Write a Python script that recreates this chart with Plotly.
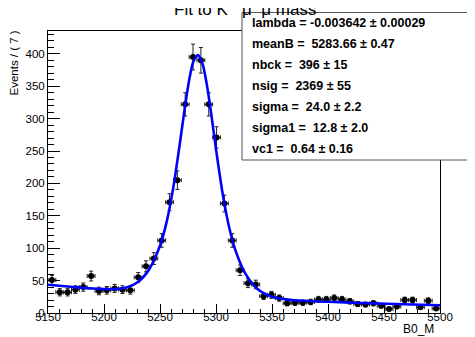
import numpy as np
import plotly.graph_objects as go

# ---------------- data ----------------
mass_bins = [5153.5, 5160.5, 5167.5, 5174.5, 5181.5, 5188.5, 5195.5, 5202.5, 5209.5, 5216.5,
             5223.5, 5230.5, 5237.5, 5244.5, 5251.5, 5258.5, 5265.5, 5272.5, 5279.5, 5286.5,
             5293.5, 5300.5, 5307.5, 5314.5, 5321.5, 5328.5, 5335.5, 5342.5, 5349.5, 5356.5,
             5363.5, 5370.5, 5377.5, 5384.5, 5391.5, 5398.5, 5405.5, 5412.5, 5419.5, 5426.5,
             5433.5, 5440.5, 5447.5, 5454.5, 5461.5, 5468.5, 5475.5, 5482.5, 5489.5, 5496.5]
events = [51, 32, 32, 36, 40, 57, 34, 35, 38, 36,
          35, 55, 72, 84, 112, 171, 205, 322, 395, 390,
          322, 271, 169, 112, 66, 46, 44, 26, 28, 23,
          15, 16, 16, 17, 21, 21, 23, 21, 18, 14,
          13, 15, 11, 6, 10, 20, 20, 9, 19, 7]
bin_half_width = 3.5

# fitted curve
fit_mass = [5150, 5170, 5190, 5210, 5220, 5230, 5240, 5250, 5256, 5262, 5268, 5272, 5276,
            5280, 5284, 5288, 5292, 5296, 5300, 5306, 5312, 5318, 5326, 5336, 5350, 5370,
            5400, 5430, 5460, 5500]
fit_events = [43.5, 40.5, 37.8, 36.8, 39.3, 47.5, 66.5, 104, 141, 195, 265, 315, 359,
              389, 398, 384.5, 350.5, 304, 253, 183.5, 130.5, 93.5, 61.5, 38.7, 25, 19.6,
              17.4, 15.5, 13.9, 12]

stat_lines = ["lambda = -0.003642 ± 0.00029",
              "meanB =  5283.66 ± 0.47",
              "nbck =  396 ± 15",
              "nsig =  2369 ± 55",
              "sigma =  24.0 ± 2.2",
              "sigma1 =  12.8 ± 2.0",
              "vc1 =  0.64 ± 0.16"]

title_text = "Fit to K\u00a0\u00a0\u00a0μ\u00a0\u00a0μ mass"
x_title = "B0_M"
y_title = "Events / ( 7 )"

# ---------------- layout geometry (pixels) ----------------
W, H = 475, 337
L, R, T, B = 40, 43, 23, 32
pw, ph = W - L - R, H - T - B

def px_x(x):
    return (x - L) / pw

def px_y(y):
    return (H - B - y) / ph

FONT = "Liberation Sans, Arial, Helvetica, sans-serif"

fig = go.Figure()
err = np.sqrt(np.array(events, dtype=float))
fig.add_trace(go.Scatter(
    x=mass_bins, y=events, mode="markers",
    marker=dict(color="black", size=6, symbol="circle"),
    error_y=dict(type="data", array=err, color="#222", thickness=1, width=2),
    error_x=dict(type="constant", value=bin_half_width, color="#222", thickness=1, width=2),
    showlegend=False, hoverinfo="skip"))
fig.add_trace(go.Scatter(
    x=fit_mass, y=fit_events, mode="lines",
    line=dict(color="#0000ff", width=2.6, shape="spline", smoothing=0.8),
    showlegend=False, hoverinfo="skip"))

axis_common = dict(showgrid=False, zeroline=False, showline=True, linecolor="black",
                   linewidth=1, mirror=True, ticks="inside", tickcolor="black",
                   tickfont=dict(family=FONT, size=11.5, color="black"))

fig.update_layout(
    width=W, height=H,
    margin=dict(l=L, r=R, t=T, b=B, pad=0),
    paper_bgcolor="white", plot_bgcolor="white",
    xaxis=dict(range=[5150, 5500], tick0=5150, dtick=50, ticklen=9, tickwidth=1,
               ticklabelstandoff=-7,
               minor=dict(ticks="inside", dtick=10, ticklen=4.5, tickcolor="black"),
               **axis_common),
    yaxis=dict(range=[0, 435.2], tick0=0, dtick=50, ticklen=12, tickwidth=1,
               minor=dict(ticks="inside", dtick=10, ticklen=6, tickcolor="black"),
               **axis_common),
)

# stats box
fig.add_shape(type="rect", xref="paper", yref="paper",
              x0=px_x(234), x1=px_x(490), y0=px_y(152), y1=px_y(4.5),
              fillcolor="white", line=dict(color="#555", width=1), layer="above")
for i, s in enumerate(stat_lines):
    yc = 14.6 + 21.1 * i
    fig.add_annotation(xref="paper", yref="paper", x=px_x(242), y=px_y(yc),
                       xanchor="left", yanchor="middle", showarrow=False,
                       text="<b>" + s + "</b>",
                       font=dict(family=FONT, size=12.5, color="black"))

# title
fig.add_annotation(xref="paper", yref="paper", x=px_x(237), y=px_y(12.5),
                   xanchor="center", yanchor="bottom", showarrow=False,
                   text=title_text, font=dict(family=FONT, size=17, color="black"))
# axis titles
fig.add_annotation(xref="paper", yref="paper", x=px_x(428), y=px_y(321),
                   xanchor="right", yanchor="middle", showarrow=False,
                   text=x_title, font=dict(family=FONT, size=12, color="black"))
fig.add_annotation(xref="paper", yref="paper", x=px_x(5), y=px_y(21),
                   xanchor="center", yanchor="top", showarrow=False, textangle=-90,
                   text=y_title, font=dict(family=FONT, size=11.5, color="black"))

fig.write_html("out.html")
